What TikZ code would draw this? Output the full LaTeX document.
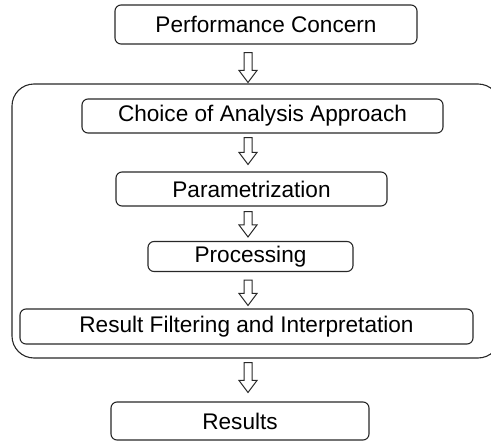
\documentclass[tikz,border=0pt]{standalone}
\usepackage{fontspec}
\setmainfont{Liberation Sans}
\usetikzlibrary{calc}
\definecolor{edge}{RGB}{40,40,40}

\begin{document}
\begin{tikzpicture}[x=1pt,y=-1pt,
  font=\fontsize{22.6}{26}\selectfont,
  box/.style={draw=edge,line width=1.1pt,rounded corners=6pt,inner sep=0pt,align=center},
  group/.style={draw=edge,line width=1.1pt,rounded corners=22pt,inner sep=0pt},
  hollow/.style={draw=edge,line width=1pt,to path={let \p1=(\tikztostart),\p2=(\tikztotarget) in
    (\x1-4pt,\y1) -- (\x1-4pt,\y2+12pt) -- (\x1-9pt,\y2+12pt) -- (\x1,\y2)
    -- (\x1+9pt,\y2+12pt) -- (\x1+4pt,\y2+12pt) -- (\x1+4pt,\y1) -- cycle}}]
  \useasboundingbox (0,0) rectangle (491,442);
  \node[group,minimum width=488pt,minimum height=274pt] (grp) at (256,221) {};
  \node[box,minimum width=302pt,minimum height=39pt] (concern) at (266,24.5) {Performance Concern};
  \node[box,minimum width=361pt,minimum height=34pt] (choice) at (262.5,116) {Choice of Analysis Approach};
  \node[box,minimum width=271pt,minimum height=34pt] (param) at (251.5,189) {Parametrization};
  \node[box,minimum width=205pt,minimum height=30pt] (proc) at (250.5,256.5) {Processing};
  \node[box,minimum width=453pt,minimum height=35pt] (filter) at (246.5,326.5) {Result Filtering and Interpretation};
  \node[box,minimum width=258pt,minimum height=38pt] (results) at (240,421) {Results};
  \coordinate (ax) at (248,0);
  \draw[hollow] ($(concern.south -| ax)+(0,8)$) to ($(grp.north -| ax)+(0,-1)$);
  \draw[hollow] ($(choice.south -| ax)+(0,4)$) to ($(param.north -| ax)+(0,-7)$);
  \draw[hollow] ($(param.south -| ax)+(0,5)$) to ($(proc.north -| ax)+(0,-4)$);
  \draw[hollow] ($(proc.south -| ax)+(0,8)$) to ($(filter.north -| ax)+(0,-3)$);
  \draw[hollow] ($(grp.south -| ax)+(0,4)$) to ($(results.north -| ax)+(0,-9)$);
\end{tikzpicture}
\end{document}
